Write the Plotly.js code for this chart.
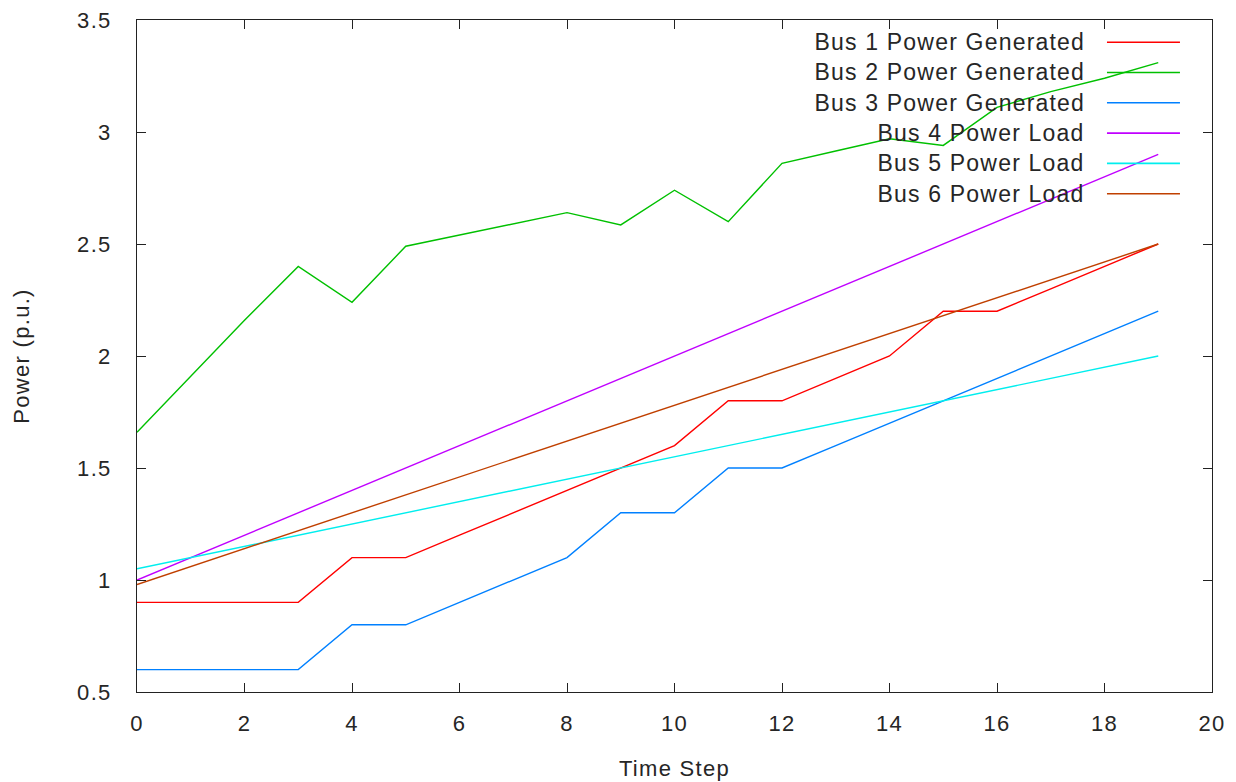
<!DOCTYPE html>
<html>
<head>
<meta charset="utf-8">
<script src="https://cdn.plot.ly/plotly-3.0.1.min.js"></script>
<style>
html, body { margin: 0; padding: 0; background: #fff; }
#chart { width: 1236px; height: 782px; }
#chart svg text { letter-spacing: 1.3px; }
#chart svg .annotation-text { letter-spacing: 1.2px; }
</style>
</head>
<body>
<div id="chart"></div>
<script>
const timeSteps = [0,1,2,3,4,5,6,7,8,9,10,11,12,13,14,15,16,17,18,19];
const bus1Gen = [0.9,0.9,0.9,0.9,1.1,1.1,1.2,1.3,1.4,1.5,1.6,1.8,1.8,1.9,2.0,2.2,2.2,2.3,2.4,2.5];
const bus2Gen = [1.66,1.91,2.16,2.40,2.24,2.49,2.54,2.59,2.64,2.585,2.74,2.60,2.86,2.915,2.97,2.94,3.11,3.18,3.24,3.31];
const bus3Gen = [0.6,0.6,0.6,0.6,0.8,0.8,0.9,1.0,1.1,1.3,1.3,1.5,1.5,1.6,1.7,1.8,1.9,2.0,2.1,2.2];
const bus4Load = [1.0,1.1,1.2,1.3,1.4,1.5,1.6,1.7,1.8,1.9,2.0,2.1,2.2,2.3,2.4,2.5,2.6,2.7,2.8,2.9];
const bus5Load = [1.05,1.10,1.15,1.20,1.25,1.30,1.35,1.40,1.45,1.50,1.55,1.60,1.65,1.70,1.75,1.80,1.85,1.90,1.95,2.00];
const bus6Load = [0.98,1.06,1.14,1.22,1.30,1.38,1.46,1.54,1.62,1.70,1.78,1.86,1.94,2.02,2.10,2.18,2.26,2.34,2.42,2.50];

const seriesNames = ["Bus 1 Power Generated","Bus 2 Power Generated","Bus 3 Power Generated","Bus 4 Power Load","Bus 5 Power Load","Bus 6 Power Load"];
const seriesValues = [bus1Gen, bus2Gen, bus3Gen, bus4Load, bus5Load, bus6Load];
const seriesColors = ["#ff0000","#00c000","#0080ff","#c000ff","#00eeee","#c04000"];

const xTicks = [0,2,4,6,8,10,12,14,16,18,20];
const yTicks = [0.5,1,1.5,2,2.5,3,3.5];
const yTickLabels = ["0.5","1","1.5","2","2.5","3","3.5"];

const fontFamily = "'Liberation Sans', Arial, sans-serif";
const textColor = '#262626';

const traces = seriesValues.map((vals, i) => ({
  x: timeSteps, y: vals, type: 'scatter', mode: 'lines', name: seriesNames[i],
  line: {color: seriesColors[i], width: 1.4}, showlegend: false
}));

// gnuplot-style key: right-aligned text with the line sample to its right
const plotLeft = 137, plotWidth = 1075;
const keyTextRight = 1087, keySpacing = 1.2;
const legLineX0 = 0.9023, legLineX1 = 0.9702;
const legTopY = 0.967, legStep = 0.0451;
const annotations = seriesNames.map((n, i) => ({
  xref: 'paper', yref: 'paper',
  x: (keyTextRight - keySpacing * n.length / 2 - plotLeft) / plotWidth,
  y: legTopY - i * legStep,
  xanchor: 'right', yanchor: 'middle', text: n, showarrow: false,
  font: {family: fontFamily, size: 23, color: textColor}
}));
const shapes = seriesNames.map((n, i) => ({
  type: 'line', xref: 'paper', yref: 'paper',
  x0: legLineX0, x1: legLineX1, y0: legTopY - i * legStep, y1: legTopY - i * legStep,
  line: {color: seriesColors[i], width: 1.6}
}));

const layout = {
  width: 1236, height: 782,
  margin: {l: 137, r: 24, t: 20, b: 90},
  paper_bgcolor: '#fff', plot_bgcolor: '#fff',
  font: {family: fontFamily, size: 22, color: textColor},
  showlegend: false,
  xaxis: {
    range: [0, 20], tickvals: xTicks, ticktext: xTicks.map(String),
    ticks: 'inside', ticklen: 9, tickwidth: 1, tickcolor: '#222',
    showline: true, linecolor: '#222', linewidth: 1, mirror: 'ticks',
    showgrid: false, zeroline: false, ticklabelstandoff: 12,
    tickfont: {family: fontFamily, size: 22, color: textColor},
    title: {text: 'Time Step', font: {family: fontFamily, size: 22, color: textColor}, standoff: 25}
  },
  yaxis: {
    range: [0.5, 3.5], tickvals: yTicks, ticktext: yTickLabels,
    ticks: 'inside', ticklen: 9, tickwidth: 1, tickcolor: '#222',
    showline: true, linecolor: '#222', linewidth: 1, mirror: 'ticks',
    showgrid: false, zeroline: false, ticklabelstandoff: 20,
    tickfont: {family: fontFamily, size: 22, color: textColor},
    title: {text: 'Power (p.u.)', font: {family: fontFamily, size: 22, color: textColor}, standoff: 45}
  },
  annotations: annotations,
  shapes: shapes
};

Plotly.newPlot('chart', traces, layout, {displayModeBar: false, staticPlot: true});
</script>
</body>
</html>
